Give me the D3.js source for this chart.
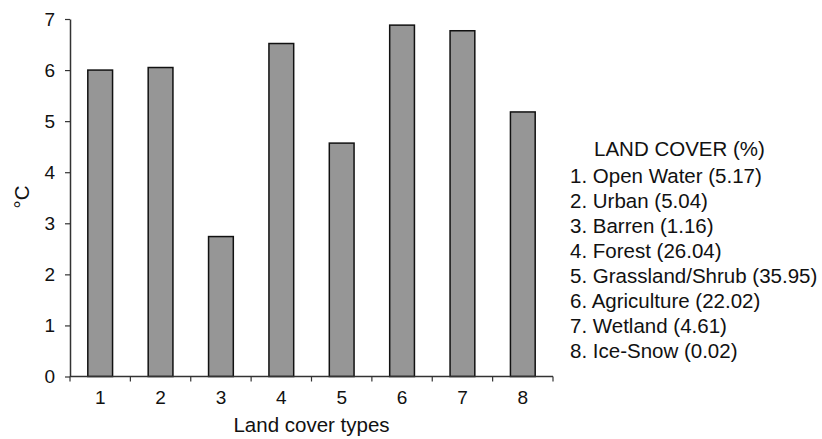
<!DOCTYPE html>
<html>
<head>
<meta charset="utf-8">
<script src="https://cdn.jsdelivr.net/npm/d3@7"></script>
<style>
  html, body { margin: 0; padding: 0; background: #fff; }
  svg { display: block; font-family: "Liberation Sans", Arial, Helvetica, sans-serif; }
</style>
</head>
<body>
<svg id="chart" width="822" height="439"></svg>
<script>
// Land cover categories (axis codes) and temperature values (°C)
const categories = ["1", "2", "3", "4", "5", "6", "7", "8"];
const values = [6.0, 6.05, 2.74, 6.52, 4.57, 6.88, 6.77, 5.18];
const yTicks = [0, 1, 2, 3, 4, 5, 6, 7];
const legendTitle = "LAND COVER (%)";
const legendItems = [
  "1. Open Water (5.17)",
  "2. Urban (5.04)",
  "3. Barren (1.16)",
  "4. Forest (26.04)",
  "5. Grassland/Shrub (35.95)",
  "6. Agriculture (22.02)",
  "7. Wetland (4.61)",
  "8. Ice-Snow (0.02)"
];

const svg = d3.select("#chart");
const plotLeft = 70, plotRight = 553, plotTop = 19, plotBottom = 376.5;
const tickFont = 19, labelFont = 20.5;

const x = d3.scaleBand().domain(categories).range([plotLeft, plotRight]).paddingInner(0).paddingOuter(0);
const y = d3.scaleLinear().domain([0, 7]).range([plotBottom, plotTop]);

const barWidth = x.bandwidth() * 0.41;

// Bars
svg.append("g")
  .selectAll("rect")
  .data(values)
  .join("rect")
  .attr("x", (d, i) => x(categories[i]) + (x.bandwidth() - barWidth) / 2)
  .attr("y", d => y(d))
  .attr("width", barWidth)
  .attr("height", d => y(0) - y(d))
  .attr("fill", "#969696")
  .attr("stroke", "#111")
  .attr("stroke-width", 1.5);

const axisColor = "#333";

// Y axis
const yAxis = svg.append("g")
  .attr("transform", `translate(${plotLeft},0)`)
  .call(d3.axisLeft(y).tickValues(yTicks).tickFormat(d3.format("d")).tickSizeInner(5).tickSizeOuter(0).tickPadding(10));
yAxis.select(".domain").attr("stroke", axisColor).attr("stroke-width", 1.5);
yAxis.selectAll(".tick line").attr("stroke", axisColor).attr("stroke-width", 1.2);
yAxis.selectAll(".tick text").attr("font-size", tickFont).attr("fill", "#111")
  .attr("font-family", "Liberation Sans, Arial, sans-serif");

// X axis: ticks at category boundaries, labels centred in each band
const xAxisG = svg.append("g").attr("transform", `translate(0,${plotBottom})`);
xAxisG.append("line")
  .attr("x1", plotLeft).attr("x2", plotRight)
  .attr("stroke", axisColor).attr("stroke-width", 1.5);
const boundaries = categories.map(c => x(c)).concat([plotRight]);
xAxisG.selectAll("line.tk")
  .data(boundaries)
  .join("line")
  .attr("class", "tk")
  .attr("x1", d => d).attr("x2", d => d)
  .attr("y1", 0).attr("y2", 5)
  .attr("stroke", axisColor).attr("stroke-width", 1.2);
xAxisG.selectAll("text")
  .data(categories)
  .join("text")
  .attr("x", d => x(d) + x.bandwidth() / 2)
  .attr("y", 27.5)
  .attr("text-anchor", "middle")
  .attr("font-size", tickFont)
  .attr("fill", "#111")
  .text(d => d);

// Axis titles
svg.append("text")
  .attr("x", (plotLeft + plotRight) / 2)
  .attr("y", 432)
  .attr("text-anchor", "middle")
  .attr("font-size", labelFont)
  .attr("fill", "#111")
  .text("Land cover types");

svg.append("text")
  .attr("transform", "translate(29,197) rotate(-90)")
  .attr("text-anchor", "middle")
  .attr("font-size", labelFont)
  .attr("fill", "#111")
  .text("°C");

// Legend
const legend = svg.append("g");
legend.append("text")
  .attr("x", 594)
  .attr("y", 156)
  .attr("font-size", labelFont)
  .attr("fill", "#111")
  .text(legendTitle);
legend.selectAll("text.item")
  .data(legendItems)
  .join("text")
  .attr("class", "item")
  .attr("x", 570)
  .attr("y", (d, i) => 183.3 + i * 25)
  .attr("font-size", labelFont)
  .attr("fill", "#111")
  .text(d => d);
</script>
</body>
</html>
